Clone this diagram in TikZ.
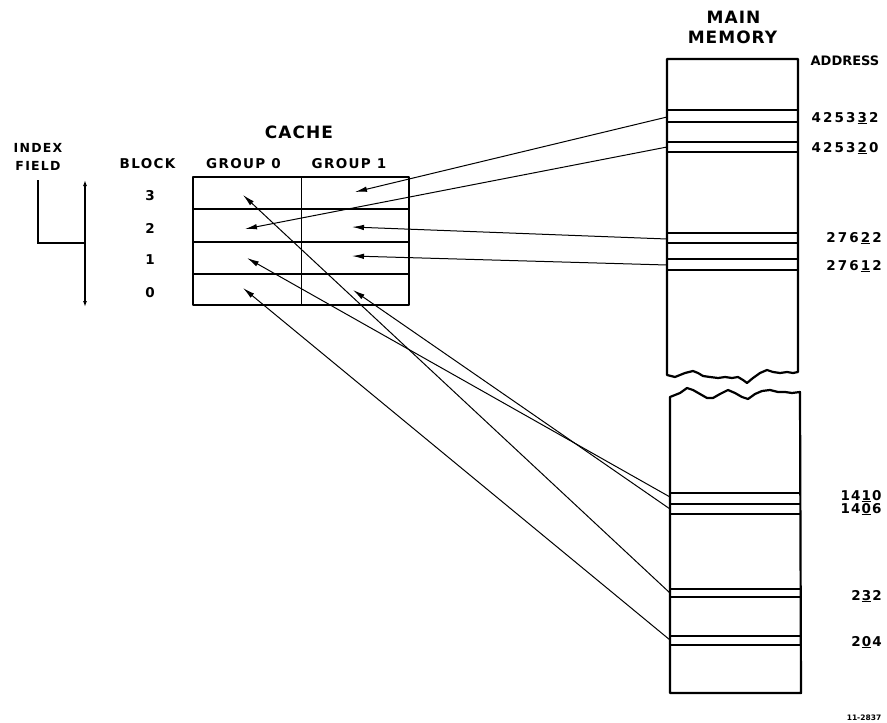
\documentclass[tikz,border=0pt]{standalone}
\usepackage{fontspec}
\setmainfont{DejaVu Sans}
\newfontfamily\lt[LetterSpace=10]{DejaVu Sans}
\newfontfamily\ltt[LetterSpace=6]{DejaVu Sans}
\newfontfamily\ltn{DejaVu Sans}
\newcommand\dg[1]{\makebox[11.5pt]{#1}}
\newcommand\dgu[1]{\makebox[11.5pt]{\underline{#1}}}
\newcommand\dgs[1]{\makebox[10.5pt]{#1}}
\newcommand\dgsu[1]{\makebox[10.5pt]{\underline{#1}}}
\usetikzlibrary{arrows.meta}
\begin{document}
\begin{tikzpicture}[x=1pt,y=-1pt,
  box/.style={line width=2.2pt, line join=round},
  band/.style={line width=1.3pt},
  arr/.style={line width=1pt, -{Latex[length=12pt,width=5.5pt]}},
  lbl/.style={inner sep=0pt, anchor=base, font={\lt\bfseries\fontsize{13.5}{14}\selectfont}},
  num/.style={inner sep=0pt, anchor=base, font={\ltn\bfseries\fontsize{13.5}{14}\selectfont}},
  ttl/.style={inner sep=0pt, anchor=base, font={\ltt\bfseries\fontsize{17}{18}\selectfont}}]
\useasboundingbox (0,0) rectangle (887,723);

% ---------- labels ----------
\node[lbl, font={\lt\bfseries\fontsize{12.5}{13}\selectfont}] (tindex) at (38,152) {INDEX};
\node[lbl, font={\lt\bfseries\fontsize{12.5}{13}\selectfont}] (tfield) at (38,170) {FIELD};
\node[lbl] (tblock) at (147.5,168) {BLOCK};
\node[lbl] (tg0) at (243.5,168) {GROUP 0};
\node[lbl] (tg1) at (349,168) {GROUP 1};
\node[ttl] (tcache) at (299,138) {CACHE};
\node[num] (b3) at (150,200) {3};
\node[num] (b2) at (150,233) {2};
\node[num] (b1) at (150,264) {1};
\node[num] (b0) at (150,297) {0};
\node[ttl] (tmain) at (733.5,23) {MAIN};
\node[ttl] (tmem) at (732.5,43) {MEMORY};
\node[num, font={\ltn\bfseries\fontsize{13}{14}\selectfont}] (taddr) at (845,65) {ADDRESS};
\node[num] (a1) at (845,122) {\dg4\dg2\dg5\dg3\dgu3\dg2};
\node[num] (a2) at (845,152) {\dg4\dg2\dg5\dg3\dgu2\dg0};
\node[num] (a3) at (854,242) {\dg2\dg7\dg6\dgu2\dg2};
\node[num] (a4) at (854,270) {\dg2\dg7\dg6\dgu1\dg2};
\node[num] (a5) at (861,500) {\dgs1\dgs4\dgsu1\dgs0};
\node[num] (a6) at (861,513) {\dgs1\dgs4\dgsu0\dgs6};
\node[num] (a7) at (866.5,600) {\dgs2\dgsu3\dgs2};
\node[num] (a8) at (866.5,646) {\dgs2\dgsu0\dgs4};
\node[inner sep=0pt, anchor=base, font={\ltn\bfseries\fontsize{7.5}{8}\selectfont}] (tfig) at (864,720) {11-2837};

% ---------- index field ----------
\coordinate (ia) at (38,180);
\coordinate (ib) at (38,243);
\coordinate (ic) at (85,243);
\coordinate (it) at (85,180);
\coordinate (ibt) at (85,307);
\draw[line width=1.3pt] (ia) -- (ib) -- (ic);
\draw[line width=1.3pt, {Latex[length=6pt,width=4pt]}-{Latex[length=6pt,width=4pt]}] (it) -- (ibt);

% ---------- cache ----------
\draw[line width=1.4pt] (193,209) -- (409,209);
\draw[line width=1.4pt] (193,242) -- (409,242);
\draw[line width=1.4pt] (193,274) -- (409,274);
\draw[line width=1pt] (301,177) -- (301,305);
\draw[box, line width=2.5pt] (193,177) rectangle (409,305);

% ---------- main memory ----------
\draw[box] (667,59) -- (798,59) -- (798,372) -- (793,373) -- (787,372) -- (780,373)
  -- (773,372) -- (767,370) -- (760,373) -- (753,378) -- (747,383) -- (743,380)
  -- (738,377) -- (732,378) -- (725,377) -- (718,378) -- (710,377) -- (703,376)
  -- (698,373) -- (693,371) -- (685,373) -- (680,375) -- (675,377) -- (667,375) -- cycle;
\draw[box] (670,397) -- (675,395) -- (680,393) -- (687,388) -- (693,390) -- (700,394)
  -- (707,398) -- (713,398) -- (720,394) -- (728,390) -- (735,393) -- (742,397)
  -- (748,399) -- (755,394) -- (762,391) -- (770,390) -- (778,392) -- (785,392)
  -- (792,393) -- (800,392) -- (801,693) -- (670,693) -- cycle;
\foreach \yy in {110,122,142,152,233,243,259,270}
  \draw[band] (667,\yy) -- (798,\yy);
\foreach \yy in {493,504,514,589,597,636,645}
  \draw[band] (670,\yy) -- (801,\yy);

% ---------- connector ends ----------
\coordinate (c3g1) at (355,192);
\coordinate (c2g0) at (245,229);
\coordinate (c2g1) at (352,227);
\coordinate (c1g1) at (352,256);
\coordinate (c3g0) at (243,195);
\coordinate (c1g0) at (247,258);
\coordinate (c0g0) at (243,288);
\coordinate (c0g1) at (353,290);
\coordinate (m425332) at (667,117);
\coordinate (m425320) at (667,147);
\coordinate (m27622) at (667,239);
\coordinate (m27612) at (667,265);
\coordinate (m1410) at (670,497);
\coordinate (m1406) at (670,509);
\coordinate (m232) at (670,593);
\coordinate (m204) at (670,640);

\draw[arr] (m425332) -- (c3g1);
\draw[arr] (m425320) -- (c2g0);
\draw[arr] (m27622) -- (c2g1);
\draw[arr] (m27612) -- (c1g1);
\draw[arr] (m1410) -- (c1g0);
\draw[arr] (m1406) -- (c0g1);
\draw[arr] (m232) -- (c3g0);
\draw[arr] (m204) -- (c0g0);
\end{tikzpicture}
\end{document}
